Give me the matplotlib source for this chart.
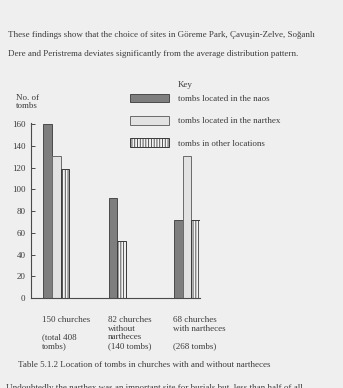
import matplotlib
matplotlib.use("Agg")
import matplotlib.pyplot as plt
import numpy as np
from matplotlib.transforms import ScaledTranslation

W, H = 343, 388
DPI = 100

PAGE = "#efefef"
INK = "#3c3c3c"
FS = 6.45

groups = [
    "150 churches\n\n(total 408\ntombs)",
    "82 churches\nwithout\nnartheces\n(140 tombs)",
    "68 churches\nwith nartheces\n\n(268 tombs)",
]
series_names = [
    "tombs located in the naos",
    "tombs located in the narthex",
    "tombs in other locations",
]
naos = [160, 92, 72]
narthex = [131, None, 131]
other = [119, 52, 72]
yticks = [0, 20, 40, 60, 80, 100, 120, 140, 160]

styles = [
    dict(facecolor="#7e7e7e", edgecolor="#4a4a4a", hatch=None),
    dict(facecolor="#e2e2e2", edgecolor="#6a6a6a", hatch=None),
    dict(facecolor="#f4f4f4", edgecolor="#3a3a3a", hatch="||||||"),
]

plt.rcParams["font.family"] = ["Liberation Serif", "DejaVu Serif"]
plt.rcParams["hatch.linewidth"] = 0.6
plt.rcParams["text.color"] = INK

fig = plt.figure(figsize=(W / DPI, H / DPI), dpi=DPI, facecolor=PAGE)
ax = fig.add_axes([31 / W, 1 - 298 / H, (200 - 31) / W, (298 - 123) / H])
ax.set_facecolor(PAGE)

bw = 0.133
for gi in range(len(groups)):
    slot = 0
    for si, vals in enumerate([naos, narthex, other]):
        v = vals[gi]
        if v is None:
            continue
        ax.bar(gi + slot * bw, v, width=bw, align="edge", linewidth=0.7, **styles[si])
        slot += 1

handles = [plt.Rectangle((0, 0), 1, 1, linewidth=0.7, label=name, **styles[si])
           for si, name in enumerate(series_names)]

ax.set_xlim(-0.188, 2 + 3 * bw)
ax.set_ylim(0, 161)
ax.set_yticks(yticks)
ax.tick_params(axis="y", direction="in", length=3, width=0.7, pad=4,
               labelsize=FS, colors="#4a4a4a", labelcolor=INK)
ax.set_xticks(np.arange(len(groups)))
ax.set_xticklabels(groups, ha="left", va="top", fontsize=FS, linespacing=1.1)
ax.tick_params(axis="x", length=0, pad=13, labelcolor=INK)
for lab in ax.get_xticklabels():
    lab.set_transform(lab.get_transform() + ScaledTranslation(-1 / DPI, 0, fig.dpi_scale_trans))
for s in ["top", "right"]:
    ax.spines[s].set_visible(False)
for s in ["left", "bottom"]:
    ax.spines[s].set_color("#4a4a4a")
    ax.spines[s].set_linewidth(0.8)

fig.legend(handles=handles, loc="upper left", bbox_to_anchor=(130 / W, 1 - 94 / H),
           frameon=False, fontsize=FS, handlelength=4.4, handleheight=1.05,
           handletextpad=0.95, labelspacing=1.45, borderpad=0, borderaxespad=0)

fig.text(178 / W, 1 - 85 / H, "Key", fontsize=FS, va="center", ha="left")
fig.text(16 / W, 1 - 102 / H, "No. of\ntombs", fontsize=FS, va="center", ha="left",
         linespacing=1.1)

fig.text(7.5 / W, 1 - 35 / H,
         "These findings show that the choice of sites in G\u00f6reme Park, \u00c7avu\u015fin-Zelve, So\u011fanl\u0131",
         fontsize=FS, va="center", ha="left")
fig.text(7.5 / W, 1 - 54 / H,
         "Dere and Peristrema deviates significantly from the average distribution pattern.",
         fontsize=FS, va="center", ha="left")
fig.text(18 / W, 1 - 365 / H,
         "Table 5.1.2 Location of tombs in churches with and without nartheces",
         fontsize=FS, va="center", ha="left")
fig.text(6 / W, 1 - 388.5 / H,
         "Undoubtedly the narthex was an important site for burials but, less than half of all",
         fontsize=FS, va="center", ha="left")

fig.savefig("out.png", dpi=DPI, facecolor=PAGE)
